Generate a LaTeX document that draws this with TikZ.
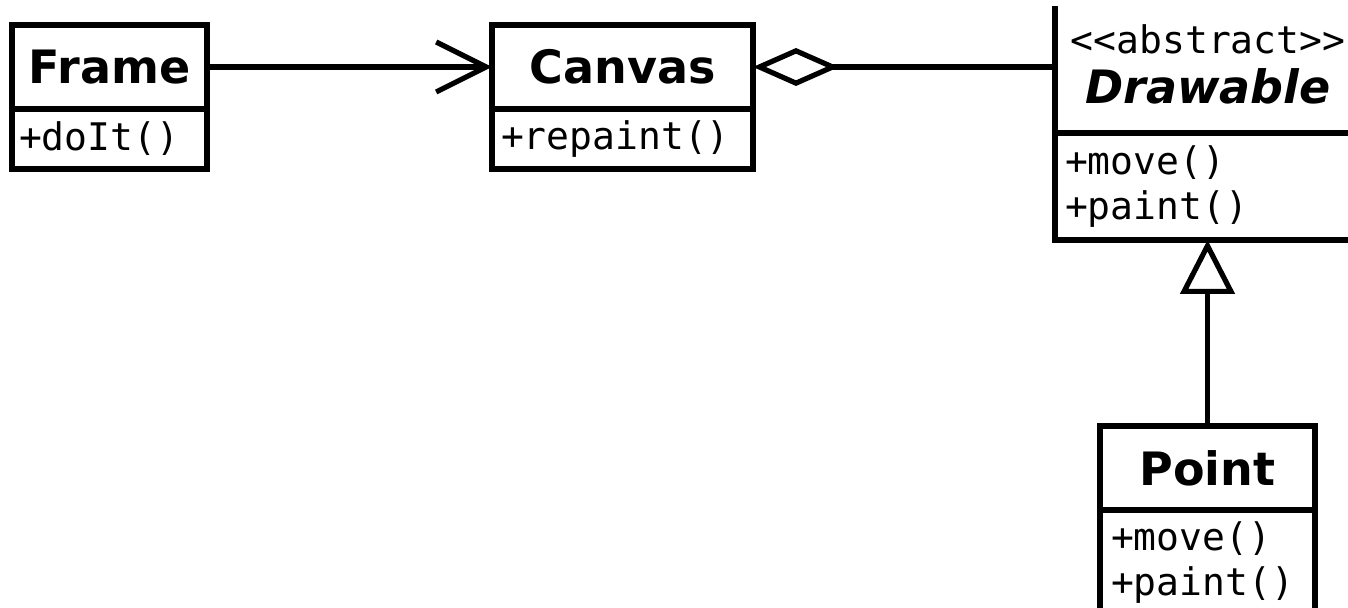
\documentclass[tikz,border=0pt]{standalone}
\usepackage{fontspec}
\newfontfamily\classfont{DejaVu Sans}
\newfontfamily\opsfont{DejaVu Sans Mono}
\usetikzlibrary{arrows.meta, positioning}

\begin{document}
\begin{tikzpicture}[x=0.5pt, y=-0.5pt, line width=2.6pt,
    classname/.style={draw, outer sep=0pt, inner sep=0pt, minimum height=42pt, font=\classfont\bfseries\fontsize{23}{25}\selectfont},
    classops/.style={draw, outer sep=0pt, inner xsep=4.5pt, inner ysep=0pt, minimum height=30pt, align=left, font=\opsfont\fontsize{19}{22.5}\selectfont}]
  \useasboundingbox (0,0) rectangle (1348,608);
  \clip (0,7) rectangle (1348,608);

  \node[classname, minimum width=97.5pt] (frame) at (109.5,67) {Frame};
  \node[classops, inner xsep=3.5pt, text width=90.5pt, below=0pt of frame] (frameops) {+doIt()};

  \node[classname, minimum width=130.5pt] (canvas) at (622.5,67) {Canvas};
  \node[classops, text width=121.5pt, below=0pt of canvas] (canvasops) {+repaint()};

  \node[classname, minimum width=153pt, minimum height=69pt, align=center] (drawable) at (1208,64)
    {{\opsfont\mdseries\fontsize{19}{25}\selectfont <{}<abstract>{}>}\\{\itshape Drawable}};
  \node[classops, inner xsep=5pt, text width=143pt, minimum height=53.5pt, below=0pt of drawable] (drawableops) {+move()\\+paint()};

  \node[classname, minimum width=107.5pt] (point) at (1207.5,468) {Point};
  \node[classops, inner xsep=5.5pt, text width=96.5pt, minimum height=53pt, below=0pt of point] (pointops) {+move()\\+paint()};

  \draw[-{Straight Barb[length=25pt, width=25pt]}] (frame.east) -- (canvas.west);
  \draw[{Diamond[open, length=43pt, width=19pt]}-] (canvas.east) -- (canvas.east -| drawable.west);
  \draw[-{Triangle[open, length=27pt, width=27pt]}] (point.north) -- (point.north |- drawableops.south);
\end{tikzpicture}
\end{document}
